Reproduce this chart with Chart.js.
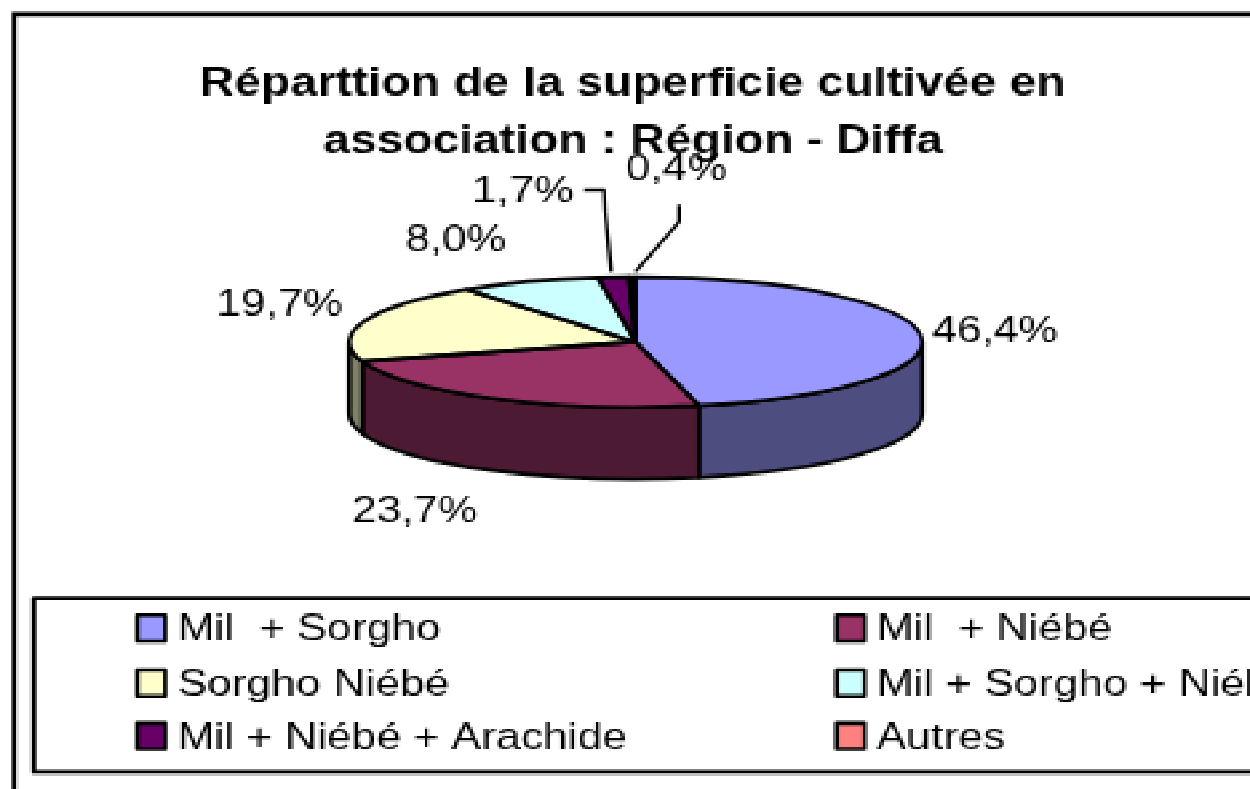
<!DOCTYPE html>
<html lang="fr">
<head>
<meta charset="utf-8">
<title>Répartition</title>
<style>
html,body{margin:0;padding:0;background:#fff;overflow:hidden}
#c{position:absolute;left:0;top:0;width:1250px!important;height:789px!important;display:block;image-rendering:pixelated}
</style>
<script src="https://cdn.jsdelivr.net/npm/chart.js@4"></script>
</head>
<body>
<canvas id="c" width="1042" height="789"></canvas>
<script>
const titleLines = ['Réparttion de la superficie cultivée en', 'association : Région - Diffa'];
const categories = ['Mil  + Sorgho', 'Mil  + Niébé', 'Sorgho Niébé', 'Mil + Sorgho + Niébé', 'Mil + Niébé + Arachide', 'Autres'];
const shares = [46.4, 23.7, 19.7, 8.0, 1.7, 0.4];
const sliceColors = ['#9999FF', '#993366', '#FFFFCC', '#CCFFFF', '#660066', '#FF8080'];

const SX = 1250 / 1042;            // the whole picture is stretched sideways
const X = px => px / SX;
const FONT = '37px "Liberation Sans", Arial, sans-serif';

const PIE = {cx: X(634.5), cy: 342, rx: X(286), ry: 65, depth: 72, line: 3.6};
const labelSpots = [[993, 331], [414, 512], [279, 305], [455, 240], [522, 192], [675, 169]];
const leaders = [
  null, null, null, null,
  [[583, 190], [603, 190], [604, 212], [610, 272]],
  [[678, 205], [678, 222], [634, 272]]
];
const legendBox = {left: 34, top: 598, bottom: 772};
const legendCols = [137, 835];
const legendRows = [628, 683, 736];

const half = hex => {
  const n = parseInt(hex.slice(1), 16);
  const c = s => Math.round(((n >> s) & 255) / 2);
  return `rgb(${c(16)},${c(8)},${c(0)})`;
};

const pie3d = {
  id: 'pie3d',
  beforeDraw(chart) {
    const {ctx, width, height} = chart;
    ctx.save();
    ctx.strokeStyle = '#000';
    ctx.lineWidth = 4;
    ctx.beginPath();
    ctx.moveTo(X(14), height + 10);
    ctx.lineTo(X(14), 14);
    ctx.lineTo(width + 10, 14);
    ctx.stroke();
    ctx.restore();
  },
  beforeDatasetsDraw(chart) {
    const {ctx} = chart;
    const arcs = chart.getDatasetMeta(0).data;
    ctx.save();
    ctx.strokeStyle = '#000';
    ctx.lineWidth = PIE.line;
    ctx.lineJoin = 'round';
    arcs.forEach((arc, i) => {
      const a = Math.max(arc.startAngle, 0), b = Math.min(arc.endAngle, Math.PI);
      if (b <= a) return;
      ctx.beginPath();
      ctx.ellipse(PIE.cx, PIE.cy, PIE.rx, PIE.ry, 0, a, b);
      ctx.ellipse(PIE.cx, PIE.cy + PIE.depth, PIE.rx, PIE.ry, 0, b, a, true);
      ctx.closePath();
      ctx.fillStyle = half(sliceColors[i]);
      ctx.fill();
      ctx.stroke();
    });
    ctx.restore();
    // squash the library's own round pie into the top face
    const r = arcs[0].outerRadius;
    ctx.save();
    ctx.translate(PIE.cx, PIE.cy);
    ctx.scale(PIE.rx / r, PIE.ry / r);
    ctx.translate(-arcs[0].x, -arcs[0].y);
  },
  afterDatasetsDraw(chart) {
    const {ctx} = chart;
    ctx.restore();
    const arcs = chart.getDatasetMeta(0).data;
    ctx.save();
    ctx.strokeStyle = '#000';
    ctx.lineWidth = PIE.line;
    ctx.lineJoin = 'round';
    arcs.forEach(arc => {
      ctx.beginPath();
      ctx.moveTo(PIE.cx, PIE.cy);
      ctx.ellipse(PIE.cx, PIE.cy, PIE.rx, PIE.ry, 0, arc.startAngle, arc.endAngle);
      ctx.closePath();
      if (arc.endAngle - arc.startAngle < 0.05) { ctx.fillStyle = '#000'; ctx.fill(); }
      ctx.stroke();
    });

    // value labels
    ctx.fillStyle = '#000';
    ctx.font = FONT;
    ctx.textAlign = 'center';
    ctx.textBaseline = 'middle';
    shares.forEach((v, i) => {
      ctx.fillText(v.toFixed(1).replace('.', ',') + '%', X(labelSpots[i][0]), labelSpots[i][1]);
      if (leaders[i]) {
        ctx.lineWidth = 3;
        ctx.beginPath();
        leaders[i].forEach(([x, y], k) => k ? ctx.lineTo(X(x), y) : ctx.moveTo(X(x), y));
        ctx.stroke();
      }
    });

    // legend
    ctx.lineWidth = 4;
    ctx.beginPath();
    ctx.moveTo(chart.width + 10, legendBox.top);
    ctx.lineTo(X(legendBox.left), legendBox.top);
    ctx.lineTo(X(legendBox.left), legendBox.bottom);
    ctx.lineTo(chart.width + 10, legendBox.bottom);
    ctx.stroke();
    ctx.textAlign = 'left';
    categories.forEach((name, i) => {
      const col = legendCols[i % 2], row = legendRows[Math.floor(i / 2)];
      ctx.fillStyle = sliceColors[i];
      ctx.fillRect(X(col), row - 13, X(28), 26);
      ctx.lineWidth = 3.6;
      ctx.strokeRect(X(col), row - 13, X(28), 26);
      ctx.fillStyle = '#000';
      ctx.fillText(name, X(col + 40), row + 2);
    });
    ctx.restore();
  }
};

new Chart(document.getElementById('c'), {
  type: 'pie',
  data: {
    labels: categories,
    datasets: [{data: shares, backgroundColor: sliceColors, borderWidth: 0}]
  },
  options: {
    responsive: false,
    animation: false,
    devicePixelRatio: 0.45,
    layout: {padding: {left: X(13), right: 0}},
    plugins: {
      legend: {display: false},
      tooltip: {enabled: false},
      title: {
        display: true,
        text: titleLines,
        color: '#000',
        font: {family: '"Liberation Sans", Arial, sans-serif', size: 40, weight: 'bold', lineHeight: 1.425},
        padding: {top: 57, bottom: 0}
      }
    }
  },
  plugins: [pie3d]
});
</script>
</body>
</html>
